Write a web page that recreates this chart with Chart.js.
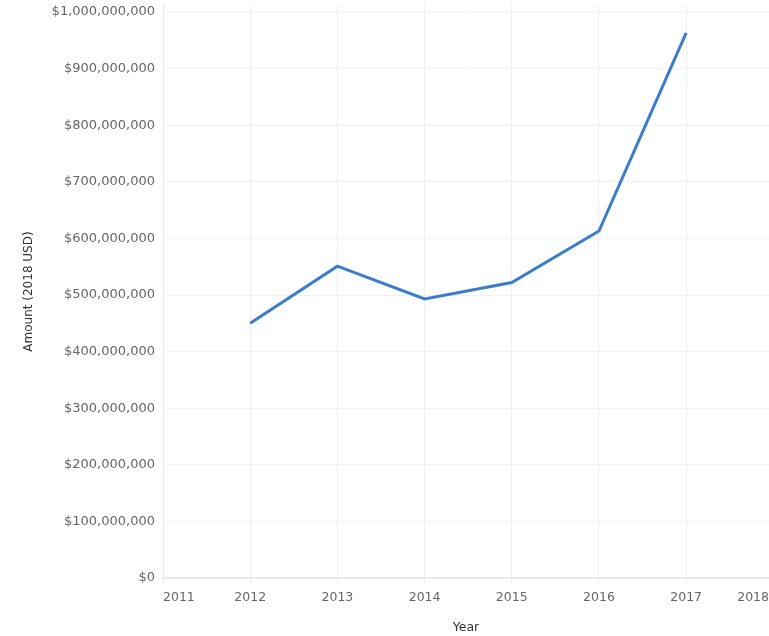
<!DOCTYPE html>
<html>
<head>
<meta charset="utf-8">
<script src="https://cdn.jsdelivr.net/npm/chart.js@4/dist/chart.umd.min.js"></script>
<style>
  html, body { margin: 0; padding: 0; background: #ffffff; overflow: hidden; }
  #wrap { width: 769px; height: 636px; }
</style>
</head>
<body>
<div id="wrap"><canvas id="c" width="769" height="636"></canvas></div>
<script>
const years = [2012, 2013, 2014, 2015, 2016, 2017];
const amounts = [450000000, 551000000, 493000000, 522000000, 613000000, 963000000];
const yearTicks = [2011, 2012, 2013, 2014, 2015, 2016, 2017, 2018];
const amountTicks = [0, 100000000, 200000000, 300000000, 400000000, 500000000,
                     600000000, 700000000, 800000000, 900000000, 1000000000];

const FONT = '"DejaVu Sans", Verdana, sans-serif';

const xLabelPlugin = {
  id: 'xLabels',
  afterDraw(chart) {
    const ctx = chart.ctx;
    const xs = chart.scales.x;
    const area = chart.chartArea;
    ctx.save();
    ctx.font = '12.5px ' + FONT;
    ctx.fillStyle = '#666666';
    ctx.textBaseline = 'middle';
    ctx.textAlign = 'left';
    yearTicks.forEach(v => {
      const t = String(v);
      const w = ctx.measureText(t).width;
      const px = xs.getPixelForValue(v);
      let left = px - w / 2;
      left = Math.max(area.left, Math.min(chart.width - w, left));
      ctx.fillText(t, left, 598);
    });
    ctx.fillStyle = '#333333';
    ctx.textAlign = 'center';
    ctx.fillText('Year', (area.left + area.right) / 2, 628);
    ctx.restore();
  }
};

new Chart(document.getElementById('c'), {
  type: 'line',
  data: {
    datasets: [{
      data: years.map((y, i) => ({ x: y, y: amounts[i] })),
      borderColor: '#3b7dcb',
      borderWidth: 3,
      pointRadius: 0,
      pointHoverRadius: 0,
      tension: 0,
      fill: false
    }]
  },
  options: {
    responsive: false,
    animation: false,
    layout: { padding: { top: 5, right: 0, left: 0, bottom: 0 } },
    plugins: { legend: { display: false }, tooltip: { enabled: false } },
    scales: {
      x: {
        type: 'linear',
        min: 2011,
        max: 2017.95,
        afterFit(scale) { scale.height = 58; scale.paddingLeft = 0; scale.paddingRight = 0; },
        afterBuildTicks(scale) { scale.ticks = yearTicks.slice(0, 7).map(v => ({ value: v })); },
        ticks: { display: false },
        grid: { color: '#efefef', lineWidth: 1, drawTicks: true, tickLength: 6 },
        border: { color: '#eaeaea', width: 2 }
      },
      y: {
        min: 0,
        max: 1012400000,
        afterFit(scale) { scale.width = 163; scale.paddingTop = 0; scale.paddingBottom = 0; },
        afterBuildTicks(scale) { scale.ticks = amountTicks.map(v => ({ value: v })); },
        ticks: {
          padding: 8,
          color: '#666666',
          font: { family: FONT, size: 13 },
          callback: v => '$' + Number(v).toLocaleString('en-US')
        },
        grid: { color: '#f1f1f1', lineWidth: 1, drawTicks: false },
        border: { color: '#e8e8e8', width: 1 },
        title: {
          display: true,
          text: 'Amount (2018 USD)',
          color: '#333333',
          font: { family: FONT, size: 12 },
          padding: { top: 22, bottom: 0 }
        }
      }
    }
  },
  plugins: [xLabelPlugin]
});
</script>
</body>
</html>
